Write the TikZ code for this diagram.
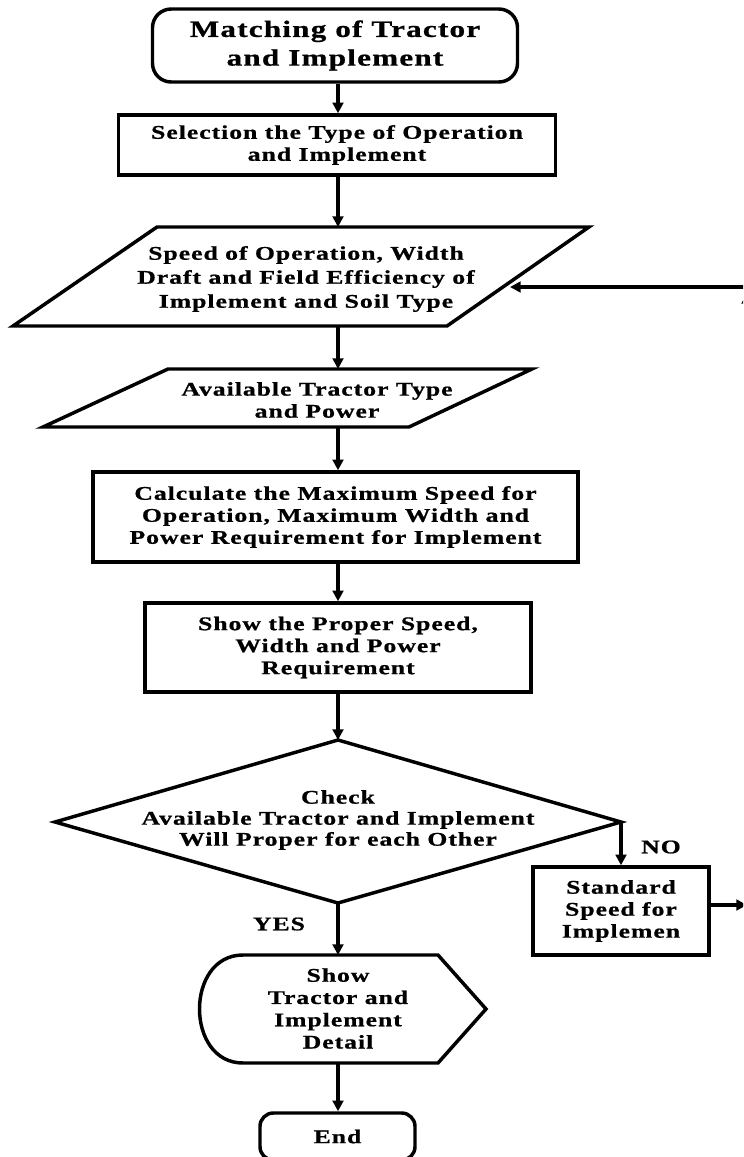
\documentclass[tikz,border=0pt]{standalone}
\usepackage{fontspec}
\usetikzlibrary{arrows.meta}
\newfontfamily\fc{Liberation Serif}[FakeStretch=1.33,LetterSpace=5,FakeBold=0.8]
\tikzset{
  txt/.style={align=center, inner sep=0pt, font=\fc\bfseries\fontsize{14.5}{16.5}\selectfont},
  shapeline/.style={draw, line width=2.6pt, line join=miter},
  rectbox/.style={shapeline, txt, inner sep=0pt},
  arr/.style={line width=2.6pt, -{Triangle[length=8pt,width=8pt]}},
  lbl/.style={txt}
}
\begin{document}
\begin{tikzpicture}[x=0.75pt,y=-0.75pt]
\useasboundingbox (0,0) rectangle (743,1157);
\clip (0,0) rectangle (743,1157);
\coordinate (X) at (338,0);
% start
\node[rectbox, rounded corners=14pt, minimum width=273.75pt, minimum height=54.75pt,
      font=\fc\bfseries\fontsize{17.6}{21.5}\selectfont] (start) at (335,45.5) {Matching of Tractor\\and Implement};
% selection
\node[rectbox, minimum width=328pt, minimum height=45pt] (sel) at (337,145) {Selection the Type of Operation\\and Implement};
% parallelogram 1
\draw[shapeline] (157,227) -- (589,227) -- (447,326) -- (13,326) -- cycle;
\coordinate (p1t) at (338,227);
\coordinate (p1b) at (338,326);
\coordinate (p1r) at (510,287);
\node[txt, font=\fc\bfseries\fontsize{14.5}{18}\selectfont] (p1) at (306,279) {Speed of Operation, Width\\Draft and Field Efficiency of\\Implement and Soil Type};
% parallelogram 2
\draw[shapeline] (168,369) -- (532,369) -- (409,427) -- (43,427) -- cycle;
\coordinate (p2t) at (338,369);
\coordinate (p2b) at (338,427);
\node[txt] (p2) at (317,400) {Available Tractor Type\\and Power};
% calculate
\node[rectbox, minimum width=363.75pt, minimum height=67.5pt] (calc) at (335.5,517) {Calculate the Maximum Speed for\\Operation, Maximum Width and\\Power Requirement for Implement};
% show proper
\node[rectbox, minimum width=289.5pt, minimum height=66.75pt] (show) at (338,647.5) {Show the Proper Speed,\\Width and Power\\Requirement};
% diamond
\draw[shapeline] (338,740) -- (621,822) -- (338,903) -- (55,822) -- cycle;
\coordinate (dt) at (338,740);
\coordinate (db) at (338,903);
\coordinate (dr) at (621,822);
\node[txt, font=\fc\bfseries\fontsize{14.5}{15.75}\selectfont] (dec) at (338,820) {Check\\Available Tractor and Implement\\Will Proper for each Other};
% standard
\node[rectbox, minimum width=132pt, minimum height=66pt] (std) at (621,911) {Standard\\Speed for\\Implemen};
% display
\draw[shapeline] (243,955) -- (438,955) -- (486,1009) -- (438,1063) -- (243,1063)
   .. controls (185,1063) and (185,955) .. (243,955) -- cycle;
\coordinate (st) at (338,955);
\coordinate (sb) at (338,1063);
\node[txt, font=\fc\bfseries\fontsize{14.5}{16.7}\selectfont] (disp) at (338,1008.5) {Show\\Tractor and\\Implement\\Detail};
% end
\node[rectbox, rounded corners=10pt, minimum width=116.25pt, minimum height=35.25pt] (end) at (337.5,1136.5) {End};
% labels
\node[lbl] (yes) at (279,924) {YES};
\node[lbl] (no) at (661,847) {NO};
% connectors
\draw[arr] (start.south -| X) -- (sel.north -| X);
\draw[arr] (sel.south -| X) -- (p1t);
\draw[arr] (p1b) -- (p2t);
\draw[arr] (p2b) -- (calc.north -| X);
\draw[arr] (calc.south -| X) -- (show.north -| X);
\draw[arr] (show.south -| X) -- (dt);
\draw[arr] (db) -- (st);
\draw[arr] (sb) -- (end.north -| X);
\draw[arr] (dr) -- (std.north);
\coordinate (rb) at (747,905);
\coordinate (rt) at (747,293);
\coordinate (rh) at (747,287);
\draw[arr] (std.east |- rb) -- (rb);
\draw[arr] (rb) -- (rt);
\draw[arr] (rh) -- (p1r);
\end{tikzpicture}
\end{document}
